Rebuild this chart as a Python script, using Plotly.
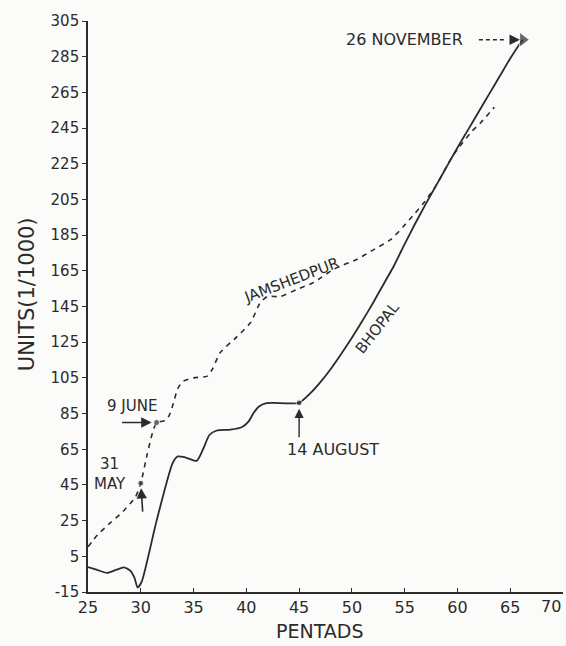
import plotly.graph_objects as go

# ---- data ----
bhopal_x = [25, 25.8, 26.8, 27.7, 28.4, 29.0, 29.4, 29.7, 30.1, 31.5, 33.0, 33.5, 34.2, 35.3,
            35.9, 36.5, 37.2, 38.5, 39.6, 40.2, 40.7, 41.2, 41.9, 42.6, 45.0,
            46, 47, 48, 49, 50, 51, 52, 53, 54, 55, 56, 57, 58,
            59, 60, 61, 62, 63, 64, 65, 66, 66.2]
bhopal_y = [-1, -2.5, -4.3, -2.5, -1.2, -3, -7, -12.5, -9, 25, 57, 61, 60.5, 58.5,
            65, 73, 75.5, 76, 77.5, 80.5, 85.5, 89, 90.8, 91, 91,
            96, 102.5, 110, 118.5, 127.5, 137, 147, 157.5, 168, 180, 191.5, 202.5, 213,
            223.5, 234, 244, 254, 264, 274, 284, 293, 294.5]

jamshedpur_x = [25, 25.9, 27.1, 28.3, 29.5, 30.0, 30.6, 31.1, 31.5, 32.3, 32.7, 33.1, 33.5,
                34.0, 35.0, 36.3, 36.8, 37.5, 39.1, 40.4, 41.3, 42.0, 43.2, 44.8, 46.4,
                48.3, 50.5, 51.8, 53.7, 54.9, 55.9, 56.8, 58.0, 59.4, 60.0, 61.3, 62.2, 63.5]
jamshedpur_y = [10.3, 17, 23.7, 30, 38.3, 46, 62, 74, 80, 81, 84, 91, 99,
                103, 105, 106, 110, 119, 128, 136, 147, 150.6, 150.6, 154.6, 158.5,
                166, 171.5, 176, 182.6, 190, 196.7, 203, 213, 228, 233, 242.7, 248, 256.7]

event_labels = ["31<br>MAY", "9 JUNE", "14 AUGUST", "26 NOVEMBER"]
event_x = [30.0, 31.5, 45.0, 66.2]
event_y = [46, 80, 91, 294.5]

x_ticks = [25, 30, 35, 40, 45, 50, 55, 60, 65, 70]
x_tick_labels = ["25", "30", "35", "40", "45", "50", "55", "60", "65", "70"]
y_ticks = [-15, 5, 25, 45, 65, 85, 105, 125, 145, 165, 185, 205, 225, 245, 265, 285, 305]

ink = "#2b2b2b"
bg = "#fbfbf9"
font = "DejaVu Sans"

fig = go.Figure()
fig.add_trace(go.Scatter(x=bhopal_x, y=bhopal_y, mode="lines",
                         line=dict(color=ink, width=1.8, shape="spline", smoothing=0.6),
                         hoverinfo="skip", showlegend=False))
fig.add_trace(go.Scatter(x=jamshedpur_x, y=jamshedpur_y, mode="lines",
                         line=dict(color=ink, width=1.6, dash="5px,5px", shape="spline", smoothing=0.6),
                         hoverinfo="skip", showlegend=False))
fig.add_trace(go.Scatter(x=event_x, y=event_y, mode="markers",
                         marker=dict(color=ink, size=[6, 6, 6, 13],
                                     symbol=["circle", "circle", "circle", "triangle-right"]),
                         hoverinfo="skip", showlegend=False))

tf = dict(family=font, size=15, color=ink)
ann = []
# 31 May
ann.append(dict(x=event_x[0], y=event_y[0], text="", showarrow=True, ax=2, ay=30,
                arrowhead=2, arrowsize=1.3, arrowwidth=1.6, arrowcolor=ink, standoff=5))
ann.append(dict(x=event_x[0], y=event_y[0], text=event_labels[0], showarrow=False,
                xshift=-31, yshift=9, font=tf, align="center"))
# 9 June
ann.append(dict(x=event_x[1], y=event_y[1], text="", showarrow=True, ax=-36, ay=0,
                arrowhead=2, arrowsize=1.3, arrowwidth=1.6, arrowcolor=ink, standoff=5))
ann.append(dict(x=event_x[1], y=event_y[1], text=event_labels[1], showarrow=False,
                xshift=-25, yshift=16, font=tf))
# 14 August
ann.append(dict(x=event_x[2], y=event_y[2], text="", showarrow=True, ax=0, ay=36,
                arrowhead=2, arrowsize=1.3, arrowwidth=1.4, arrowcolor=ink, standoff=6))
ann.append(dict(x=event_x[2], y=event_y[2], text=event_labels[2], showarrow=False,
                xshift=34, yshift=-47, font=dict(family=font, size=16, color=ink)))
# 26 November
ann.append(dict(x=event_x[3], y=event_y[3], text="", showarrow=True, ax=-14, ay=0,
                arrowhead=2, arrowsize=1.3, arrowwidth=1.6, arrowcolor=ink, standoff=3))
ann.append(dict(x=event_x[3], y=event_y[3], text=event_labels[3], showarrow=False,
                xshift=-118, yshift=0, font=dict(family=font, size=16, color=ink)))
# curve labels
ann.append(dict(x=44.3, y=160, text="JAMSHEDPUR", showarrow=False, textangle=-21, font=tf))
ann.append(dict(x=52.4, y=133, text="BHOPAL", showarrow=False, textangle=-52, font=tf))
# last x tick label, right-aligned to the axis end so it stays on the page
ann.append(dict(xref="x", yref="paper", x=x_ticks[-1], y=0, xanchor="right", yanchor="top",
                yshift=-3, text=x_tick_labels[-1], showarrow=False,
                font=dict(family=font, size=16, color=ink)))
# axis titles
ann.append(dict(xref="paper", yref="paper", x=-0.128, y=0.522, xanchor="center", yanchor="middle",
                text="UNITS(1/1000)", showarrow=False, textangle=-90,
                font=dict(family=font, size=21, color=ink)))
ann.append(dict(xref="paper", yref="paper", x=0.489, y=-0.068, xanchor="center", yanchor="middle",
                text="PENTADS", showarrow=False, font=dict(family=font, size=19, color=ink)))

shapes = [dict(type="line", xref="x", yref="y", xsizemode="pixel", ysizemode="pixel",
               xanchor=event_x[3], yanchor=event_y[3], x0=-44, x1=-16, y0=0, y1=0,
               line=dict(color=ink, width=1.6, dash="4px,3px"))]

fig.update_layout(
    width=566, height=646,
    margin=dict(l=88, r=3, t=21, b=54, autoexpand=False),
    paper_bgcolor=bg, plot_bgcolor=bg,
    annotations=ann, shapes=shapes,
    font=dict(family=font, color=ink),
)
fig.update_xaxes(range=[25, 70], tickvals=x_ticks, ticktext=x_tick_labels[:-1] + [""],
                 showgrid=False, zeroline=False, showline=True, linecolor=ink, linewidth=1.6,
                 ticks="inside", ticklen=4, tickcolor=ink,
                 tickfont=dict(family=font, size=16, color=ink))
fig.update_yaxes(range=[-15, 305], tickvals=y_ticks, ticktext=[str(v) for v in y_ticks],
                 showgrid=False, zeroline=False, showline=True, linecolor=ink, linewidth=1.6,
                 ticks="outside", ticklen=4, tickcolor=ink, ticklabeloverflow="allow",
                 tickfont=dict(family=font, size=15, color=ink))

fig.write_html("out.html", config={"displayModeBar": False},
               post_script="document.body.style.margin='0';document.body.style.overflow='hidden';")
